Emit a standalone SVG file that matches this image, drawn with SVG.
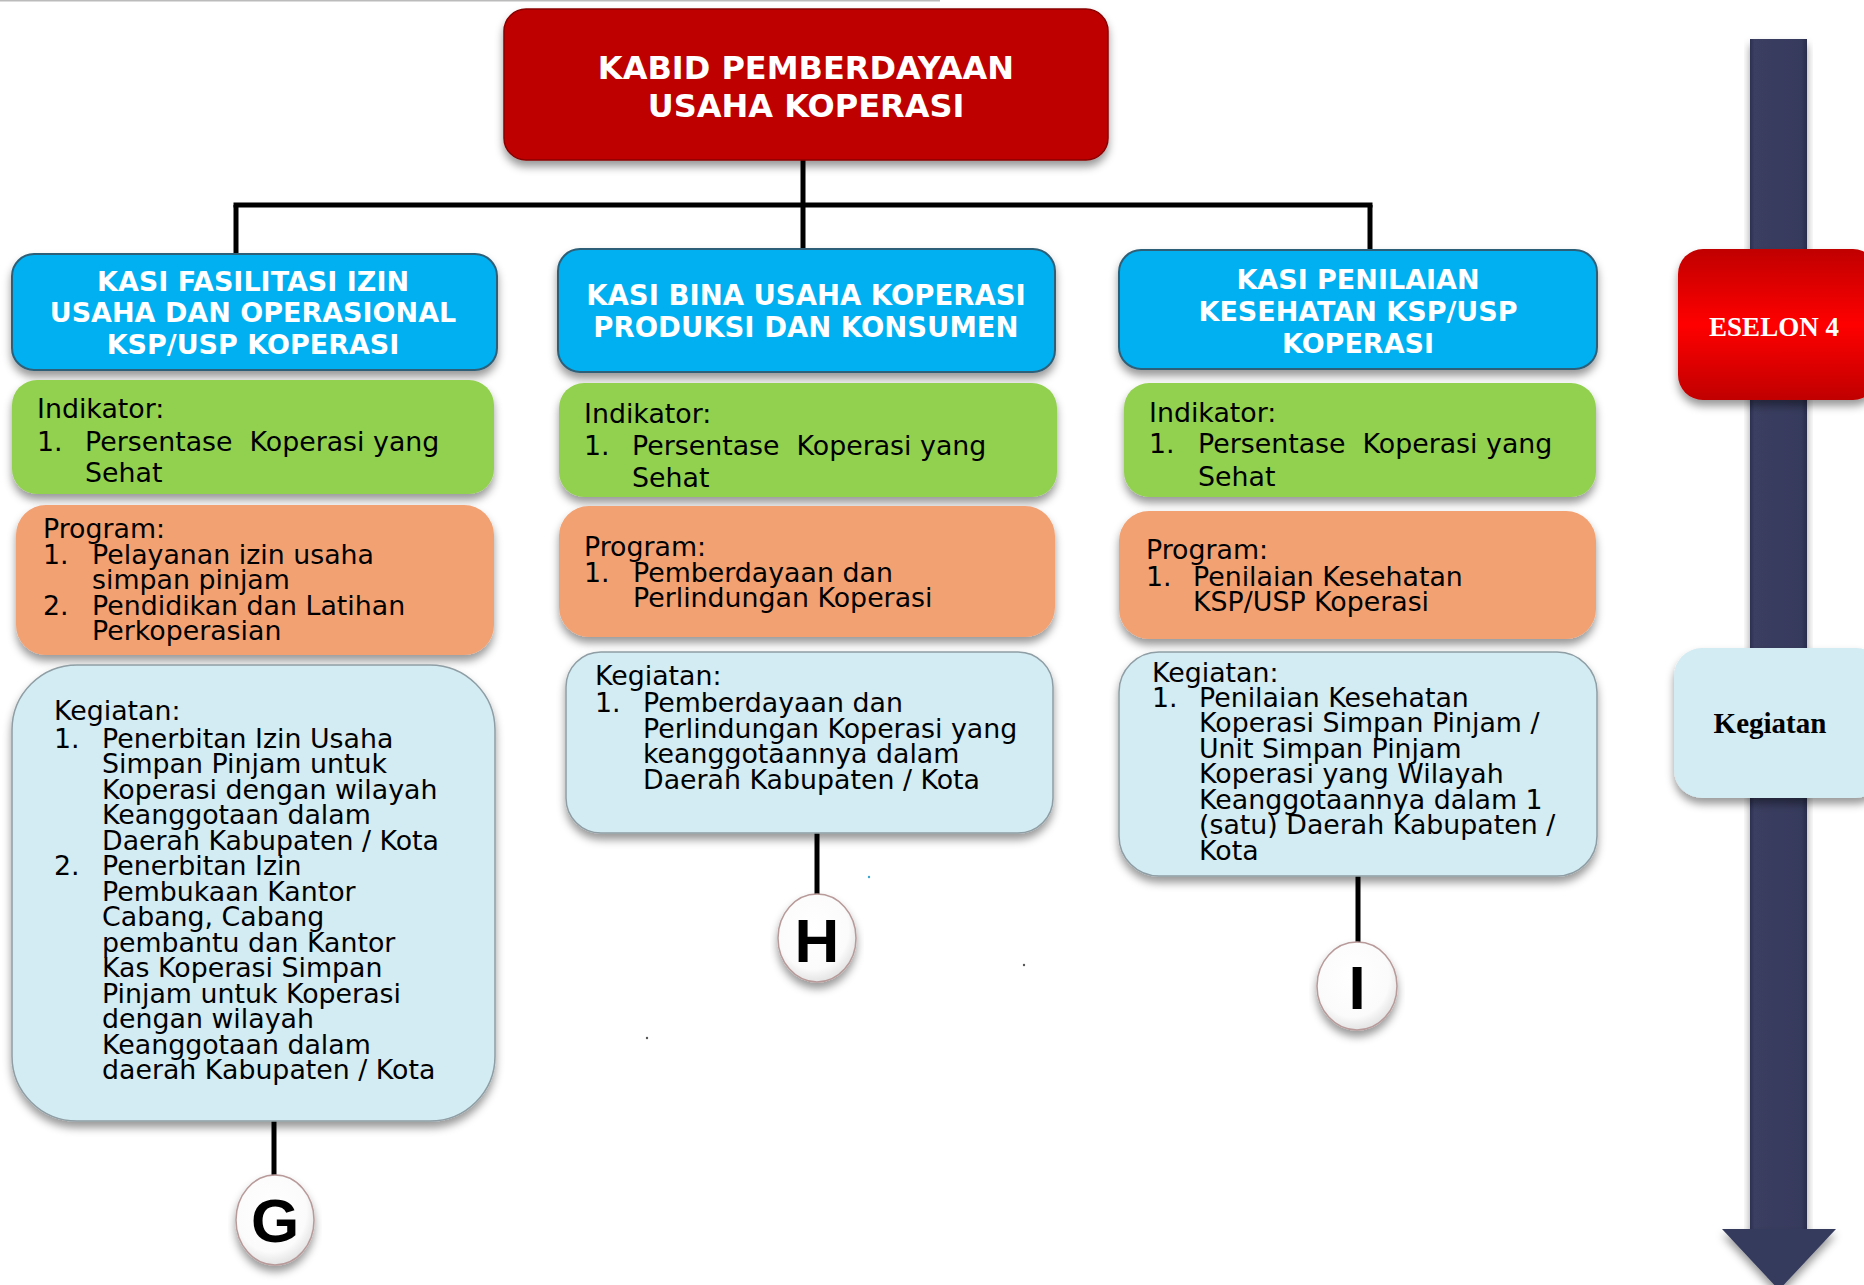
<svg xmlns="http://www.w3.org/2000/svg" width="1864" height="1285" viewBox="0 0 1864 1285">
<style>
.hdr{font-family:"DejaVu Sans",Verdana,sans-serif;font-weight:bold;fill:#fff;text-anchor:middle}
.b{font-family:"DejaVu Sans",Verdana,sans-serif;font-size:26.8px;fill:#000}
.let{font-family:"Liberation Sans",Arial,sans-serif;font-weight:bold;font-size:62px;fill:#000;text-anchor:middle}
.ser{font-family:"Liberation Serif","Times New Roman",serif;font-weight:bold;text-anchor:middle}
.blue{fill:#00B0F0;stroke:#2f5f78;stroke-width:2}
.green{fill:#92D050}
.orange{fill:#F2A173}
.keg{fill:#D3EBF2;stroke:#8e9ea4;stroke-width:1.5}
.conn{stroke:#000;stroke-width:5;fill:none}
.circ{fill:url(#cg);stroke:#b89a9a;stroke-width:1.5}
</style>
<defs>
<filter id="sh" x="-10%" y="-10%" width="120%" height="135%">
<feDropShadow dx="0" dy="6" stdDeviation="4" flood-color="#000" flood-opacity="0.4"/>
</filter>
<radialGradient id="cg" cx="45%" cy="40%" r="65%">
<stop offset="0" stop-color="#ffffff"/>
<stop offset="0.7" stop-color="#fbfbfb"/>
<stop offset="1" stop-color="#dcdcdc"/>
</radialGradient>
<linearGradient id="rg" x1="0" y1="0" x2="0" y2="1">
<stop offset="0" stop-color="#C00000"/>
<stop offset="0.5" stop-color="#FF0000"/>
<stop offset="1" stop-color="#C00000"/>
</linearGradient>
<linearGradient id="shaft" x1="0" y1="0" x2="1" y2="0">
<stop offset="0" stop-color="#2c3050"/>
<stop offset="0.08" stop-color="#3b3f62"/>
<stop offset="0.9" stop-color="#363A5C"/>
<stop offset="1" stop-color="#2a2e4c"/>
</linearGradient>
</defs>
<rect width="1864" height="1285" fill="#fff"/>
<line x1="0" y1="0.5" x2="940" y2="0.5" stroke="#bbb" stroke-width="2"/>

<g id="axis">
<rect x="1750" y="39" width="57" height="1192" fill="url(#shaft)" filter="url(#sh)"/>
<polygon points="1722,1229 1836,1229 1779,1290" fill="#363A5C" filter="url(#sh)"/>
</g>

<g id="connectors">
<line class="conn" x1="803" y1="160" x2="803" y2="250"/>
<line class="conn" x1="233.5" y1="205" x2="1372.5" y2="205"/>
<line class="conn" x1="236" y1="205" x2="236" y2="255"/>
<line class="conn" x1="1370" y1="205" x2="1370" y2="251"/>
<line class="conn" x1="274" y1="1121" x2="274" y2="1177"/>
<line class="conn" x1="817" y1="833" x2="817" y2="894"/>
<line class="conn" x1="1358" y1="876" x2="1358" y2="943"/>
</g>

<g id="kabid">
<rect x="504" y="9" width="604" height="151" rx="22" fill="#BE0000" stroke="#8a0000" stroke-width="1.5" filter="url(#sh)"/>
<text class="hdr" font-size="32" x="806" y="79">KABID PEMBERDAYAAN</text>
<text class="hdr" font-size="32" x="806" y="117">USAHA KOPERASI</text>
</g>

<g id="kasi1">
<rect class="blue" x="12" y="254" width="485" height="116" rx="22" filter="url(#sh)"/>
<text class="hdr" font-size="27" x="253" y="291">KASI FASILITASI IZIN</text>
<text class="hdr" font-size="27" x="253" y="322">USAHA DAN OPERASIONAL</text>
<text class="hdr" font-size="27" x="253" y="354">KSP/USP KOPERASI</text>
</g>
<g id="kasi2">
<rect class="blue" x="558" y="249" width="497" height="123" rx="22" filter="url(#sh)"/>
<text class="hdr" font-size="27.5" x="806" y="305">KASI BINA USAHA KOPERASI</text>
<text class="hdr" font-size="27.5" x="806" y="337">PRODUKSI DAN KONSUMEN</text>
</g>
<g id="kasi3">
<rect class="blue" x="1119" y="250" width="478" height="119" rx="22" filter="url(#sh)"/>
<text class="hdr" font-size="27" x="1358" y="289">KASI PENILAIAN</text>
<text class="hdr" font-size="27" x="1358" y="321">KESEHATAN KSP/USP</text>
<text class="hdr" font-size="27" x="1358" y="353">KOPERASI</text>
</g>

<g id="ind1">
<rect class="green" x="12" y="380" width="482" height="114" rx="25" filter="url(#sh)"/>
<text class="b" x="37" y="418">Indikator:</text>
<text class="b" x="37" y="451">1.</text>
<text class="b" x="85" y="451">Persentase&#160; Koperasi yang</text>
<text class="b" x="85" y="482">Sehat</text>
</g>
<g id="ind2">
<rect class="green" x="559" y="383" width="498" height="114" rx="25" filter="url(#sh)"/>
<text class="b" x="584" y="423">Indikator:</text>
<text class="b" x="584" y="455">1.</text>
<text class="b" x="632" y="455">Persentase&#160; Koperasi yang</text>
<text class="b" x="632" y="487">Sehat</text>
</g>
<g id="ind3">
<rect class="green" x="1124" y="383" width="472" height="114" rx="25" filter="url(#sh)"/>
<text class="b" x="1149" y="422">Indikator:</text>
<text class="b" x="1149" y="453">1.</text>
<text class="b" x="1198" y="453">Persentase&#160; Koperasi yang</text>
<text class="b" x="1198" y="486">Sehat</text>
</g>

<g id="prog1">
<rect class="orange" x="16" y="505" width="478" height="150" rx="30" filter="url(#sh)"/>
<text class="b" x="43" y="538">Program:</text>
<text class="b" x="43" y="564">1.</text>
<text class="b" x="92" y="564">Pelayanan izin usaha</text>
<text class="b" x="92" y="589">simpan pinjam</text>
<text class="b" x="43" y="615">2.</text>
<text class="b" x="92" y="615">Pendidikan dan Latihan</text>
<text class="b" x="92" y="640">Perkoperasian</text>
</g>
<g id="prog2">
<rect class="orange" x="559" y="506" width="496" height="131" rx="30" filter="url(#sh)"/>
<text class="b" x="584" y="556">Program:</text>
<text class="b" x="584" y="582">1.</text>
<text class="b" x="633" y="582">Pemberdayaan dan</text>
<text class="b" x="633" y="607">Perlindungan Koperasi</text>
</g>
<g id="prog3">
<rect class="orange" x="1119" y="511" width="477" height="128" rx="30" filter="url(#sh)"/>
<text class="b" x="1146" y="559">Program:</text>
<text class="b" x="1146" y="586">1.</text>
<text class="b" x="1193" y="586">Penilaian Kesehatan</text>
<text class="b" x="1193" y="611">KSP/USP Koperasi</text>
</g>

<g id="keg1">
<rect class="keg" x="12" y="665" width="483" height="456" rx="65" filter="url(#sh)"/>
<text class="b" x="54" y="720">Kegiatan:</text>
<text class="b" x="54" y="748">1.</text>
<text class="b" x="102" y="748">Penerbitan Izin Usaha</text>
<text class="b" x="102" y="773">Simpan Pinjam untuk</text>
<text class="b" x="102" y="799">Koperasi dengan wilayah</text>
<text class="b" x="102" y="824">Keanggotaan dalam</text>
<text class="b" x="102" y="850">Daerah Kabupaten / Kota</text>
<text class="b" x="54" y="875">2.</text>
<text class="b" x="102" y="875">Penerbitan Izin</text>
<text class="b" x="102" y="901">Pembukaan Kantor</text>
<text class="b" x="102" y="926">Cabang, Cabang</text>
<text class="b" x="102" y="952">pembantu dan Kantor</text>
<text class="b" x="102" y="977">Kas Koperasi Simpan</text>
<text class="b" x="102" y="1003">Pinjam untuk Koperasi</text>
<text class="b" x="102" y="1028">dengan wilayah</text>
<text class="b" x="102" y="1054">Keanggotaan dalam</text>
<text class="b" x="102" y="1079">daerah Kabupaten / Kota</text>
</g>
<g id="keg2">
<rect class="keg" x="566" y="652" width="487" height="181" rx="35" filter="url(#sh)"/>
<text class="b" x="595" y="685">Kegiatan:</text>
<text class="b" x="595" y="712">1.</text>
<text class="b" x="643" y="712">Pemberdayaan dan</text>
<text class="b" x="643" y="738">Perlindungan Koperasi yang</text>
<text class="b" x="643" y="763">keanggotaannya dalam</text>
<text class="b" x="643" y="789">Daerah Kabupaten / Kota</text>
</g>
<g id="keg3">
<rect class="keg" x="1119" y="652" width="478" height="224" rx="40" filter="url(#sh)"/>
<text class="b" x="1152" y="682">Kegiatan:</text>
<text class="b" x="1152" y="707">1.</text>
<text class="b" x="1199" y="707">Penilaian Kesehatan</text>
<text class="b" x="1199" y="732">Koperasi Simpan Pinjam /</text>
<text class="b" x="1199" y="758">Unit Simpan Pinjam</text>
<text class="b" x="1199" y="783">Koperasi yang Wilayah</text>
<text class="b" x="1199" y="809">Keanggotaannya dalam 1</text>
<text class="b" x="1199" y="834">(satu) Daerah Kabupaten /</text>
<text class="b" x="1199" y="860">Kota</text>
</g>

<g id="circleG">
<ellipse class="circ" cx="275" cy="1220" rx="39" ry="45" filter="url(#sh)"/>
<text class="let" x="275" y="1242">G</text>
</g>
<g id="circleH">
<ellipse class="circ" cx="817" cy="938" rx="39" ry="44" filter="url(#sh)"/>
<text class="let" x="817" y="962">H</text>
</g>
<g id="circleI">
<ellipse class="circ" cx="1357" cy="986" rx="40" ry="44" filter="url(#sh)"/>
<text class="let" x="1357" y="1009">I</text>
</g>

<g id="eselon">
<rect x="1678" y="249" width="200" height="151" rx="25" fill="url(#rg)" filter="url(#sh)"/>
<text class="ser" font-size="27" fill="#fff" x="1774" y="336">ESELON 4</text>
</g>
<g id="kegiatan-level">
<rect x="1674" y="648" width="210" height="150" rx="28" fill="#D3EBF2" filter="url(#sh)"/>
<text class="ser" font-size="29" fill="#000" x="1770" y="733">Kegiatan</text>
</g>

<circle cx="869" cy="877" r="1.2" fill="#3aa6d0"/>
<circle cx="1024" cy="965" r="1.2" fill="#555"/>
<circle cx="647" cy="1038" r="1.2" fill="#555"/>
</svg>
